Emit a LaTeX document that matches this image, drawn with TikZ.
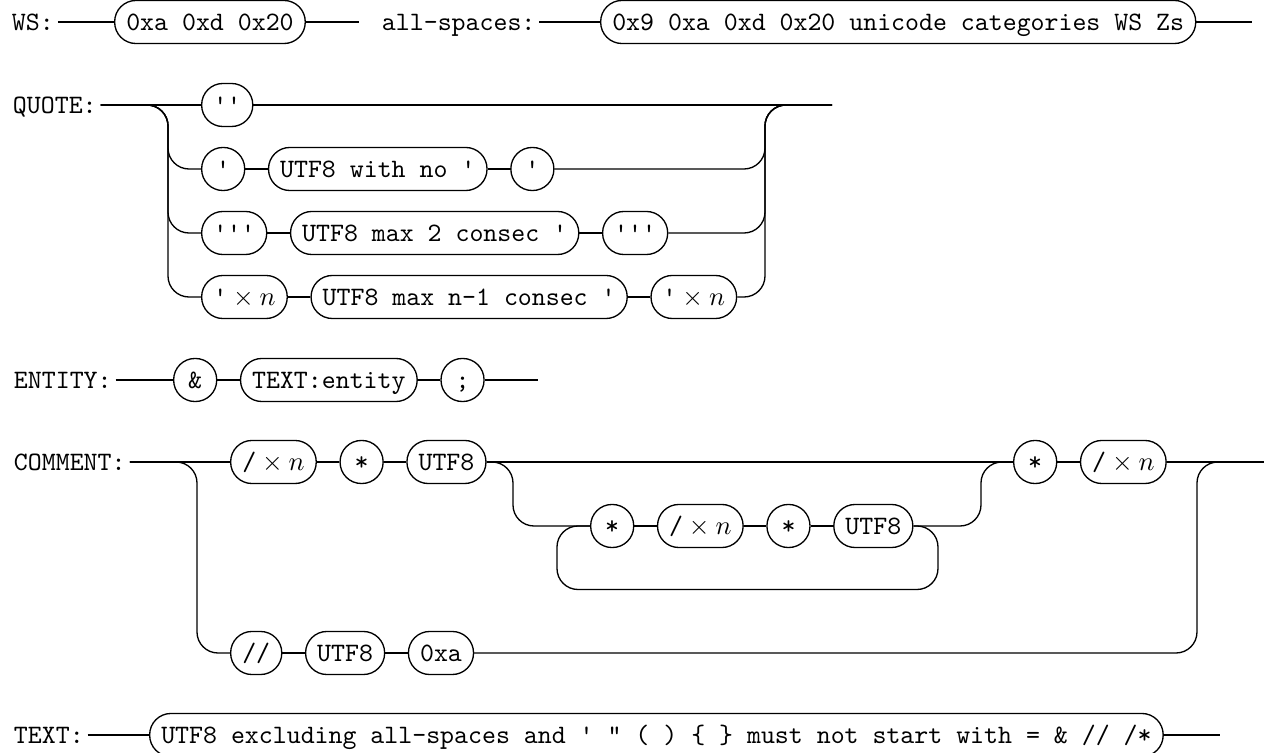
\documentclass[tikz,border=0pt]{standalone}
\usetikzlibrary{positioning}
\begin{document}
\begin{tikzpicture}[x=0.3764pt,y=-0.3764pt,
  every node/.style={font=\ttfamily},
  rbox/.style={draw, line width=0.5pt, rounded corners=8pt, inner xsep=4.37pt, inner ysep=0pt,
    minimum height=16.2pt, minimum width=16.2pt, text height=6.11pt, text depth=0pt, anchor=west},
  lbl/.style={inner sep=0pt, outer xsep=1.5pt, text height=6.11pt, text depth=0pt, anchor=west},
  rr/.style={line width=0.5pt, rounded corners=7.9pt},
  wire/.style={line width=0.5pt},
  node distance=8.47pt]
\useasboundingbox (0,0) rectangle (1264,753);

% ---------- WS / all-spaces ----------
\node[lbl] (wsl) at (8,22) {WS:};
\node[rbox] (wsa) at (114,22) {0xa 0xd 0x20};
\coordinate (wse) at (359,22);
\node[lbl] (asl) at (378,22) {all-spaces:};
\node[rbox] (asb) at (600,22) {0x9 0xa 0xd 0x20 unicode categories WS Zs};
\coordinate (ase) at (1252,22);
\draw[wire] (wsl.east) -- (wsa.west) (wsa.east) -- (wse);
\draw[wire] (asl.east) -- (asb.west) (asb.east) -- (ase);

% ---------- QUOTE ----------
\node[lbl] (ql) at (9,105) {QUOTE:};
\node[rbox] (q1) at (201,105) {\textquotesingle\textquotesingle};
\node[rbox] (q2a) at (201,169) {\textquotesingle};
\node[rbox, right=of q2a] (q2b) {UTF8 with no \textquotesingle};
\node[rbox, right=of q2b] (q2c) {\textquotesingle};
\node[rbox] (q3a) at (201,233) {\textquotesingle\textquotesingle\textquotesingle};
\node[rbox, right=of q3a] (q3b) {UTF8 max 2 consec \textquotesingle};
\node[rbox, right=of q3b] (q3c) {\textquotesingle\textquotesingle\textquotesingle};
\node[rbox] (q4a) at (201,297) {\textquotesingle${}\times n$};
\node[rbox, right=of q4a] (q4b) {UTF8 max n-1 consec \textquotesingle};
\node[rbox, right=of q4b] (q4c) {\textquotesingle${}\times n$};
\coordinate (qe) at (832,105);
\draw[wire] (ql.east) -- (q1.west) (q1.east) -- (qe);
\draw[rr] (ql.east) -- (168,105) -- (168,169) -- (q2a.west);
\draw[rr] (ql.east) -- (168,105) -- (168,233) -- (q3a.west);
\draw[rr] (ql.east) -- (168,105) -- (168,297) -- (q4a.west);
\draw[wire] (q2a.east) -- (q2b.west) (q2b.east) -- (q2c.west);
\draw[wire] (q3a.east) -- (q3b.west) (q3b.east) -- (q3c.west);
\draw[wire] (q4a.east) -- (q4b.west) (q4b.east) -- (q4c.west);
\draw[rr] (q2c.east) -- (765,169) -- (765,105) -- (qe);
\draw[rr] (q3c.east) -- (765,233) -- (765,105) -- (qe);
\draw[rr] (q4c.east) -- (765,297) -- (765,105) -- (qe);

% ---------- ENTITY ----------
\node[lbl] (el) at (10,380) {ENTITY:};
\node[rbox] (e1) at (173,380) {\&};
\node[rbox, right=of e1] (e2) {TEXT:entity};
\node[rbox, right=of e2] (e3) {;};
\coordinate (ee) at (538,380);
\draw[wire] (el.east) -- (e1.west) (e1.east) -- (e2.west) (e2.east) -- (e3.west) (e3.east) -- (ee);

% ---------- COMMENT ----------
\node[lbl] (cl) at (10,462) {COMMENT:};
\node[rbox] (c1) at (230,462) {/${}\times n$};
\node[rbox, right=of c1] (c2) {*};
\node[rbox, right=of c2] (c3) {UTF8};
\node[rbox] (l1) at (590,526) {*};
\node[rbox, right=of l1] (l2) {/${}\times n$};
\node[rbox, right=of l2] (l3) {*};
\node[rbox, right=of l3] (l4) {UTF8};
\node[rbox] (c6) at (1013,462) {*};
\node[rbox, right=of c6] (c7) {/${}\times n$};
\coordinate (ce) at (1264,462);
\node[rbox] (b1) at (230,653) {//};
\node[rbox, right=of b1] (b2) {UTF8};
\node[rbox, right=of b2] (b3) {0xa};
\draw[wire] (cl.east) -- (c1.west) (c1.east) -- (c2.west) (c2.east) -- (c3.west)
  (c3.east) -- (c6.west) (c6.east) -- (c7.west) (c7.east) -- (ce);
\draw[rr] (cl.east) -- (197,462) -- (197,653) -- (b1.west);
\draw[wire] (b1.east) -- (b2.west) (b2.east) -- (b3.west);
\draw[rr] (b3.east) -- (1197,653) -- (1197,462) -- (ce);
\draw[rr] (c3.east) -- (513,462) -- (513,526) -- (l1.west);
\draw[wire] (l1.east) -- (l2.west) (l2.east) -- (l3.west) (l3.east) -- (l4.west);
\draw[rr] (l4.east) -- (981,526) -- (981,462) -- (c6.west);
\draw[rr] (l4.east) -- (938,526) -- (938,589.5) -- (557,589.5) -- (557,526) -- (l1.west);

% ---------- TEXT ----------
\node[lbl] (tl) at (10,735) {TEXT:};
\node[rbox] (tb) at (149,735) {UTF8 excluding all-spaces and \textquotesingle{} \textquotedbl{} ( ) \{ \} must not start with = \& // /*};
\coordinate (te) at (1220,735);
\draw[wire] (tl.east) -- (tb.west) (tb.east) -- (te);
\end{tikzpicture}
\end{document}
